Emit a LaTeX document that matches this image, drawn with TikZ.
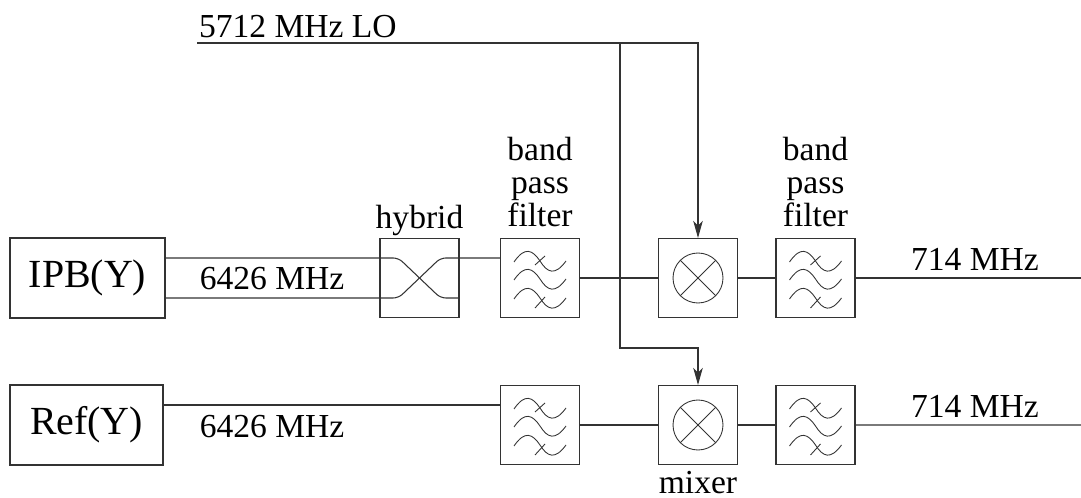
\documentclass[tikz,border=0pt]{standalone}
\usepackage{fontspec}
\setmainfont{Liberation Serif}
\usetikzlibrary{calc,arrows.meta}

\begin{document}
\begin{tikzpicture}[
		line width=0.6pt, color=black!80,
		source/.style={rectangle,draw,minimum width=3.1cm,minimum height=1.6cm,inner sep=0pt,font=\fontsize{22.7}{22.7}\selectfont,text=black},
		smallbox/.style={rectangle,draw,minimum size=1.58cm,inner sep=0pt},
		label/.style={font=\fontsize{19.1}{19}\selectfont,text=black,align=center,inner sep=0pt},
		arrow/.style={-{Stealth[length=0.34cm,width=0.19cm,inset=0.09cm]}},
		waves/.pic={
			\foreach \y in {0.32,-0.04,-0.42}{
				\draw[line width=0.5pt] (-0.52,\y) .. controls (-0.3,\y+0.32) and (-0.15,\y+0.24) .. (0,\y+0.02)
				.. controls (0.15,\y-0.22) and (0.3,\y-0.28) .. (0.52,\y+0.02);
			}
			\draw[line width=0.5pt] (-0.1,0.26) -- (0.1,0.44);
			\draw[line width=0.5pt] (-0.1,-0.6) -- (0.1,-0.38);
		},
		cross/.pic={
			\draw[line width=0.5pt] (0,0) circle (0.5);
			\draw[line width=0.5pt] (-0.354,-0.354) -- (0.354,0.354);
			\draw[line width=0.5pt] (-0.354,0.354) -- (0.354,-0.354);
		}
		]
		\useasboundingbox (0,0) rectangle (21.62,9.96);

		\node[source](IPB) at (1.75,4.4){IPB(Y)};
		\node[source, below of = IPB, yshift = -1.94cm, xshift = -0.02cm, minimum width=3.06cm](Ref){Ref(Y)};

		\node[smallbox, right of = IPB, xshift = 5.64cm](H0){};
		\node[smallbox, right of = H0, xshift = 1.41cm](F0){};
		\node[smallbox, right of = F0, xshift = 2.16cm](M0){};
		\node[smallbox, right of = M0, xshift = 1.35cm](F1){};
		\node[smallbox, below of = F0, yshift = -1.94cm](F2){};
		\node[smallbox, below of = M0, yshift = -1.94cm](M1){};
		\node[smallbox, below of = F1, yshift = -1.94cm](F3){};

		\pic at (F0) {waves};
		\pic at (F1) {waves};
		\pic at (F2) {waves};
		\pic at (F3) {waves};
		\pic at (M0) {cross};
		\pic at (M1) {cross};

		% labels
		\node[label, above of = H0, yshift = 0.16cm](L0){hybrid};
		\node[label, above of = F0, yshift = 0.92cm](L1){band\\pass\\filter};
		\node[label, above of = F1, yshift = 0.92cm](L2){band\\pass\\filter};
		\node[label, below of = M1, yshift = -0.16cm](L3){mixer};
		\node[label, anchor=west](L4) at (3.97,9.43){5712 MHz LO};
		\node[label](L5) at (5.44,4.38){6426 MHz};
		\node[label](L6) at (5.44,1.42){6426 MHz};
		\node[label](L7) at (19.5,4.77){714 MHz};
		\node[label](L8) at (19.5,1.83){714 MHz};

		% LO lines
		\coordinate (LO) at (3.94,9.1);
		\coordinate (J0) at (12.4,9.1);
		\coordinate (J1) at (12.4,3);
		\draw[arrow] (LO) -| (M0.north);
		\draw[arrow] (J0) -- (J1) -| (M1.north);

		% hybrid
		\draw[rounded corners=3pt] ($(IPB.east)+(0,0.4)$) -- ($(H0.center)+(-0.42,0.4)$)
		-- ($(H0.center)+(0.42,-0.4)$) -- ($(H0.east)+(0,-0.4)$);
		\draw[rounded corners=3pt] ($(IPB.east)+(0,-0.4)$) -- ($(H0.center)+(-0.42,-0.4)$)
		-- ($(H0.center)+(0.42,0.4)$) -- ($(F0.west)+(0,0.4)$);

		% signal lines
		\coordinate (O0) at (21.62,4.4);
		\coordinate (O1) at (21.62,1.46);
		\draw (F0) -- (M0);
		\draw (M0) -- (F1);
		\draw (F1) -- (O0);
		\draw ($(Ref.east)+(0,0.4)$) -- ($(F2.west)+(0,0.4)$);
		\draw (F2) -- (M1);
		\draw (M1) -- (F3);
		\draw (F3) -- (O1);
	\end{tikzpicture}
\end{document}
